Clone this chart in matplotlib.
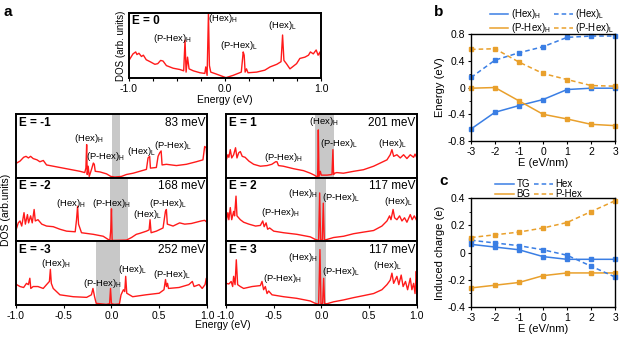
import numpy as np
import matplotlib.pyplot as plt
from matplotlib.lines import Line2D
from matplotlib.ticker import MultipleLocator, FuncFormatter

plt.rcParams['font.family'] = ['Liberation Sans', 'DejaVu Sans']
plt.rcParams['mathtext.fontset'] = 'custom'
plt.rcParams['mathtext.rm'] = 'Liberation Sans'
plt.rcParams['axes.unicode_minus'] = False

# ---------------- panel b: band energies (eV) ----------------
field = [-3, -2, -1, 0, 1, 2, 3]
hex_h = [-0.62, -0.37, -0.27, -0.18, -0.03, -0.01, -0.01]
hex_l = [0.15, 0.41, 0.52, 0.61, 0.75, 0.77, 0.77]
phex_h = [-0.01, 0.00, -0.20, -0.40, -0.47, -0.55, -0.57]
phex_l = [0.57, 0.58, 0.38, 0.21, 0.12, 0.03, 0.02]

# ---------------- panel c: induced charge (e) ----------------
q_tg = [0.06, 0.04, 0.02, -0.03, -0.05, -0.05, -0.05]
q_hex = [0.09, 0.07, 0.05, 0.02, -0.02, -0.10, -0.18]
q_bg = [-0.26, -0.24, -0.22, -0.17, -0.15, -0.15, -0.15]
q_phex = [0.11, 0.13, 0.15, 0.18, 0.22, 0.30, 0.38]

# ---------------- panel a: DOS traces (arb. units) ----------------
e_0 = [-1.0, -0.958, -0.93, -0.917, -0.896, -0.87, -0.85, -0.82, -0.78, -0.73, -0.70, -0.67, -0.645,
       -0.61, -0.54, -0.47, -0.43, -0.416, -0.405, -0.39, -0.374, -0.33, -0.26, -0.21, -0.20, -0.186,
       -0.172, -0.162, -0.148, -0.09, 0.01, 0.085, 0.17, 0.19, 0.20, 0.21, 0.224, 0.24, 0.33, 0.415,
       0.47, 0.54, 0.584, 0.60, 0.614, 0.64, 0.677, 0.746, 0.78, 0.833, 0.87, 0.89, 0.92, 0.95, 0.97,
       0.99, 1.0]
dos_0 = [0.27, 0.37, 0.40, 0.36, 0.38, 0.33, 0.35, 0.28, 0.25, 0.21, 0.22, 0.27, 0.26,
         0.19, 0.15, 0.13, 0.11, 0.58, 0.09, 0.32, 0.14, 0.11, 0.08, 0.07, 0.17, 0.04,
         1.0, 0.19, 0.09, 0.06, 0.005, 0.04, 0.09, 0.40, 0.35, 0.09, 0.14, 0.08, 0.09, 0.12,
         0.17, 0.21, 0.25, 0.66, 0.27, 0.22, 0.14, 0.22, 0.30, 0.32, 0.35, 0.40, 0.37, 0.43, 0.35,
         0.40, 0.25]

e_m1 = [-0.993, -0.958, -0.92, -0.895, -0.87, -0.847, -0.82, -0.78, -0.75, -0.714, -0.68, -0.61,
        -0.47, -0.33, -0.28, -0.268, -0.26, -0.254, -0.244, -0.233, -0.209, -0.19, -0.18, -0.17,
        -0.12, -0.052, -0.007, 0.035, 0.105, 0.157, 0.227, 0.296, 0.366, 0.383, 0.40, 0.408, 0.47,
        0.488, 0.505, 0.52, 0.53, 0.575, 0.68, 0.784, 0.888, 0.958, 0.976, 0.993, 1.0]
dos_m1 = [0.23, 0.26, 0.32, 0.335, 0.31, 0.335, 0.30, 0.28, 0.25, 0.27, 0.20, 0.18,
          0.14, 0.10, 0.08, 0.15, 0.52, 0.05, 0.18, 0.02, 0.13, 0.23, 0.21, 0.10,
          0.09, 0.06, 0.02, 0.01, 0.02, 0.05, 0.07, 0.10, 0.13, 0.31, 0.335, 0.15, 0.16,
          0.335, 0.39, 0.42, 0.20, 0.21, 0.19, 0.21, 0.25, 0.28, 0.49, 0.47, 0.28]

e_m2 = [-0.993, -0.976, -0.958, -0.94, -0.916, -0.902, -0.88, -0.868, -0.847, -0.83, -0.81, -0.798,
        -0.77, -0.73, -0.68, -0.61, -0.54, -0.47, -0.38, -0.366, -0.355, -0.345, -0.314, -0.19,
        -0.087, -0.035, -0.017, -0.007, 0.0, 0.007, 0.035, 0.157, 0.21, 0.26, 0.296, 0.366, 0.394,
        0.404, 0.415, 0.47, 0.54, 0.565, 0.575, 0.585, 0.645, 0.714, 0.767, 0.836, 0.888, 0.94,
        0.976, 1.0]
dos_m2 = [0.21, 0.29, 0.32, 0.24, 0.45, 0.27, 0.42, 0.29, 0.40, 0.29, 0.50, 0.32,
          0.34, 0.27, 0.24, 0.23, 0.19, 0.16, 0.15, 0.34, 0.55, 0.27, 0.135, 0.11,
          0.08, 0.03, 0.015, 0.19, 0.51, 0.015, 0.015, 0.02, 0.06, 0.11, 0.125, 0.16, 0.18,
          0.34, 0.135, 0.16, 0.21, 0.47, 0.50, 0.27, 0.24, 0.29, 0.27, 0.28, 0.30, 0.32,
          0.33, 0.30]

e_m3 = [-0.993, -0.958, -0.92, -0.89, -0.87, -0.855, -0.845, -0.82, -0.77, -0.715, -0.68, -0.65,
        -0.64, -0.63, -0.61, -0.54, -0.40, -0.26, -0.21, -0.194, -0.177, -0.16, -0.056, -0.02,
        -0.01, 0.0, 0.03, 0.083, 0.10, 0.125, 0.139, 0.149, 0.16, 0.222, 0.36, 0.50, 0.55, 0.566,
        0.576, 0.587, 0.597, 0.708, 0.81, 0.847, 0.865, 0.917, 0.95, 0.98, 0.993, 1.0]
dos_m3 = [0.32, 0.29, 0.275, 0.34, 0.32, 0.42, 0.26, 0.29, 0.29, 0.26, 0.32, 0.37,
          0.56, 0.34, 0.26, 0.16, 0.13, 0.12, 0.16, 0.26, 0.13, 0.026, 0.01, 0.02,
          0.26, 0.02, 0.01, 0.016, 0.16, 0.24, 0.21, 0.45, 0.185, 0.13, 0.16, 0.185, 0.24, 0.40,
          0.29, 0.34, 0.26, 0.275, 0.32, 0.37, 0.29, 0.32, 0.26, 0.32, 0.42, 0.29]

e_p1 = [-0.997, -0.98, -0.97, -0.955, -0.94, -0.92, -0.90, -0.885, -0.867, -0.85, -0.83, -0.80,
        -0.76, -0.71, -0.64, -0.57, -0.52, -0.48, -0.466, -0.45, -0.40, -0.29, -0.187, -0.117,
        -0.075, -0.054, -0.04, -0.033, -0.026, -0.012, -0.002, 0.058, 0.11, 0.12, 0.127, 0.138,
        0.16, 0.23, 0.337, 0.44, 0.546, 0.616, 0.686, 0.72, 0.738, 0.756, 0.79, 0.825, 0.86, 0.895,
        0.93, 0.965, 0.98, 1.0]
dos_p1 = [0.28, 0.36, 0.32, 0.44, 0.31, 0.36, 0.47, 0.31, 0.39, 0.41, 0.335, 0.32,
          0.26, 0.21, 0.18, 0.19, 0.21, 0.25, 0.25, 0.19, 0.18, 0.14, 0.11, 0.07,
          0.04, 0.02, 0.02, 0.75, 0.02, 0.10, 0.04, 0.04, 0.05, 0.44, 0.05, 0.07,
          0.08, 0.07, 0.10, 0.125, 0.18, 0.23, 0.28, 0.36, 0.44, 0.335, 0.36, 0.31, 0.36, 0.30,
          0.36, 0.32, 0.37, 0.31]

e_p2 = [-0.997, -0.98, -0.97, -0.955, -0.94, -0.92, -0.91, -0.895, -0.885, -0.85, -0.815, -0.76,
        -0.69, -0.64, -0.615, -0.60, -0.58, -0.564, -0.543, -0.50, -0.396, -0.257, -0.117, -0.065,
        -0.03, -0.019, -0.009, 0.009, 0.019, 0.03, 0.058, 0.127, 0.232, 0.337, 0.44, 0.546, 0.633,
        0.686, 0.713, 0.728, 0.75, 0.766, 0.79, 0.818, 0.843, 0.87, 0.895, 0.93, 0.95, 0.972, 1.0]
dos_p2 = [0.32, 0.45, 0.34, 0.53, 0.34, 0.47, 0.40, 0.71, 0.40, 0.34, 0.30, 0.27,
          0.24, 0.25, 0.32, 0.23, 0.29, 0.19, 0.21, 0.16, 0.135, 0.11, 0.07, 0.03,
          0.015, 0.76, 0.02, 0.02, 0.60, 0.02, 0.03, 0.06, 0.08, 0.12, 0.145, 0.17, 0.24,
          0.32, 0.40, 0.34, 0.50, 0.37, 0.34, 0.40, 0.32, 0.37, 0.30, 0.42, 0.34, 0.40, 0.32]

e_p3 = [-0.997, -0.97, -0.946, -0.93, -0.92, -0.905, -0.892, -0.878, -0.85, -0.815, -0.727, -0.64,
        -0.623, -0.606, -0.588, -0.57, -0.553, -0.518, -0.396, -0.26, -0.117, -0.065, -0.03, -0.016,
        -0.005, 0.012, 0.023, 0.033, 0.058, 0.127, 0.232, 0.337, 0.44, 0.546, 0.633, 0.686, 0.72,
        0.738, 0.756, 0.79, 0.81, 0.835, 0.855, 0.88, 0.902, 0.93, 0.947, 0.965, 0.98, 0.993, 1.0]
dos_p3 = [0.34, 0.33, 0.37, 0.29, 0.45, 0.32, 0.71, 0.32, 0.29, 0.26, 0.29, 0.305,
          0.37, 0.24, 0.29, 0.18, 0.22, 0.16, 0.13, 0.105, 0.063, 0.026, 0.01, 0.87,
          0.016, 0.026, 0.42, 0.02, 0.02, 0.05, 0.08, 0.116, 0.147, 0.18, 0.24, 0.32, 0.39,
          0.50, 0.34, 0.45, 0.32, 0.47, 0.29, 0.37, 0.24, 0.42, 0.24, 0.34, 0.18, 0.53, 0.34]

# gap windows (eV) and gap values
gap_m1, gap_m2, gap_m3 = (0.003, 0.087), (-0.017, 0.174), (-0.165, 0.087)
gap_p1, gap_p2, gap_p3 = (-0.072, 0.13), (-0.065, 0.05), (-0.072, 0.047)

BLUE = '#3a7ee4'
ORANGE = '#e9a02c'
RED = '#ff1a1a'
H = r'$_\mathregular{H}$'
L = r'$_\mathregular{L}$'

fig = plt.figure(figsize=(6.2, 3.39), dpi=100)


def dos_panel(rect, e, d, tag, gap=None, gap_txt=None, labels=(), xlab=False):
    ax = fig.add_axes(rect)
    if gap is not None:
        ax.axvspan(gap[0], gap[1], color='#c8c8c8', lw=0, zorder=0)
    ax.plot(e, d, color=RED, lw=1.0, zorder=2)
    ax.set_xlim(-1, 1)
    ax.set_ylim(0, 1)
    ax.set_yticks([])
    for s in ax.spines.values():
        s.set_linewidth(1.4)
    ax.text(0.015, 0.96, tag, transform=ax.transAxes, ha='left', va='top',
            fontsize=8.5, fontweight='bold')
    if gap_txt:
        ax.text(0.99, 0.96, gap_txt, transform=ax.transAxes, ha='right', va='top', fontsize=8.5)
    for (txt, x, y) in labels:
        ax.text(x, y, txt, ha='center', va='center', fontsize=6.8, zorder=3)
    if xlab:
        ax.xaxis.set_major_locator(MultipleLocator(0.5))
        ax.tick_params(axis='x', direction='out', length=2.5, width=0.8, labelsize=7.5, pad=1.5)
    else:
        ax.set_xticks([])
    return ax


# top E = 0 panel
ax0 = dos_panel([0.208, 0.770, 0.3097, 0.192], e_0, dos_0, 'E = 0',
                labels=[('(P-Hex)' + H, -0.55, 0.60), ('(Hex)' + H, -0.02, 0.92),
                        ('(P-Hex)' + L, 0.15, 0.50), ('(Hex)' + L, 0.60, 0.80)])
ax0.xaxis.set_major_locator(MultipleLocator(0.25))
ax0.xaxis.set_major_formatter(FuncFormatter(lambda v, p: '%.1f' % v if abs(v - round(v)) < 1e-6 else ''))
ax0.tick_params(axis='x', direction='out', length=2.5, width=0.8, labelsize=7.5, pad=1.5)
ax0.set_xlabel('Energy (eV)', fontsize=7.5, labelpad=1)
ax0.set_ylabel('DOS (arb. units)', fontsize=7, labelpad=2)

xl, xr, w = 0.0258, 0.3645, 0.308
hgt = 0.1878
bots = [0.1003 + 2 * hgt, 0.1003 + hgt, 0.1003]

dos_panel([xl, bots[0], w, hgt], e_m1, dos_m1, 'E = -1', gap_m1, '83 meV',
          [('(Hex)' + H, -0.24, 0.61), ('(P-Hex)' + H, -0.06, 0.34),
           ('(Hex)' + L, 0.31, 0.41), ('(P-Hex)' + L, 0.65, 0.51)])
dos_panel([xl, bots[1], w, hgt], e_m2, dos_m2, 'E = -2', gap_m2, '168 meV',
          [('(Hex)' + H, -0.43, 0.60), ('(P-Hex)' + H, 0.0, 0.60),
           ('(Hex)' + L, 0.38, 0.42), ('(P-Hex)' + L, 0.59, 0.59)])
dos_panel([xl, bots[2], w, hgt], e_m3, dos_m3, 'E = -3', gap_m3, '252 meV',
          [('(Hex)' + H, -0.58, 0.645), ('(P-Hex)' + H, -0.09, 0.33),
           ('(Hex)' + L, 0.22, 0.56), ('(P-Hex)' + L, 0.64, 0.48)], xlab=True)
dos_panel([xr, bots[0], w, hgt], e_p1, dos_p1, 'E = 1', gap_p1, '201 meV',
          [('(P-Hex)' + H, -0.40, 0.32), ('(Hex)' + H, 0.02, 0.875),
           ('(P-Hex)' + L, 0.18, 0.53), ('(Hex)' + L, 0.74, 0.53)])
dos_panel([xr, bots[1], w, hgt], e_p2, dos_p2, 'E = 2', gap_p2, '117 meV',
          [('(P-Hex)' + H, -0.43, 0.45), ('(Hex)' + H, -0.20, 0.745),
           ('(P-Hex)' + L, 0.21, 0.69), ('(Hex)' + L, 0.81, 0.62)])
dos_panel([xr, bots[2], w, hgt], e_p3, dos_p3, 'E = 3', gap_p3, '117 meV',
          [('(P-Hex)' + H, -0.41, 0.42), ('(Hex)' + H, -0.20, 0.74),
           ('(P-Hex)' + L, 0.21, 0.53), ('(Hex)' + L, 0.69, 0.62)], xlab=True)

fig.text(0.36, 0.04, 'Energy (eV)', ha='center', va='center', fontsize=7.5)
fig.text(0.010, 0.38, 'DOS (arb.units)', ha='center', va='center', rotation=90, fontsize=7.5)


def zero_fmt(v, p):
    return '0' if abs(v) < 1e-9 else '%.1f' % v


def line_panel(rect, series, ylim, major, minor, ylabel, labels, leg_x):
    ax = fig.add_axes(rect)
    handles = []
    for (y, c, ls, lab) in zip(series, [BLUE, ORANGE, BLUE, ORANGE], ['-', '-', '--', '--'], labels):
        ax.plot(field, y, color=c, ls=ls, lw=1.1, marker='s', ms=2.8, clip_on=False,
                dashes=(3, 2) if ls == '--' else (None, None))
        handles.append(Line2D([], [], color=c, lw=1.1, ls=ls,
                              dashes=(3, 2) if ls == '--' else (None, None), label=lab))
    ax.set_xlim(-3, 3)
    ax.set_ylim(*ylim)
    ax.set_xticks(field)
    ax.yaxis.set_major_locator(MultipleLocator(major))
    ax.yaxis.set_minor_locator(MultipleLocator(minor))
    ax.yaxis.set_major_formatter(FuncFormatter(zero_fmt))
    ax.tick_params(direction='out', length=2.5, width=0.8, labelsize=7.5, pad=1.5)
    ax.tick_params(which='minor', direction='out', length=1.5, width=0.6)
    for s in ax.spines.values():
        s.set_linewidth(1.0)
    ax.set_xlabel('E (eV/nm)', fontsize=8, labelpad=1)
    ax.set_ylabel(ylabel, fontsize=8, labelpad=2)
    ax.legend(handles=handles, ncol=2, frameon=False, fontsize=7, loc='lower left',
              bbox_to_anchor=(leg_x, 0.99), handlelength=1.9, handletextpad=0.25,
              columnspacing=0.4, labelspacing=0.0, borderaxespad=0.0, borderpad=0.0)
    return ax


line_panel([0.7597, 0.584, 0.2323, 0.3156], [hex_h, phex_h, hex_l, phex_l], (-0.8, 0.8), 0.4, 0.2,
           'Energy (eV)', ['(Hex)' + H, '(P-Hex)' + H, '(Hex)' + L, '(P-Hex)' + L], 0.13)
line_panel([0.7597, 0.0944, 0.2323, 0.3215], [q_tg, q_bg, q_hex, q_phex], (-0.4, 0.4), 0.2, 0.1,
           'Induced charge (e)', ['TG', 'BG', 'Hex', 'P-Hex'], 0.17)

fig.text(0.006, 0.985, 'a', fontsize=11, fontweight='bold', va='top')
fig.text(0.700, 0.985, 'b', fontsize=11, fontweight='bold', va='top')
fig.text(0.708, 0.488, 'c', fontsize=11, fontweight='bold', va='top')

fig.savefig('out.png', dpi=100)
